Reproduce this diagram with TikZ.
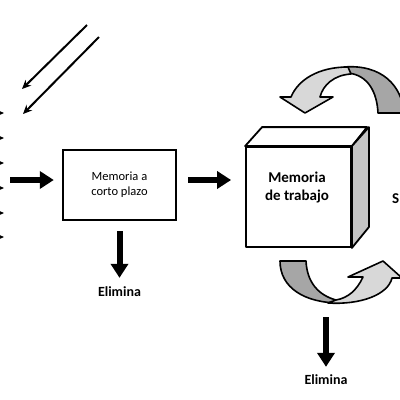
\documentclass[tikz,border=0pt]{standalone}
\usepackage{fontspec}
\setmainfont{Carlito}
\usetikzlibrary{arrows.meta, positioning}
\definecolor{cubegray}{RGB}{196,196,196}
\definecolor{loopdark}{RGB}{166,166,166}
\definecolor{looplight}{RGB}{216,216,216}

\begin{document}
\begin{tikzpicture}[x=1pt, y=-1pt,
  fat/.style={-{Triangle[length=14pt, width=17pt]}, line width=6pt},
  ray/.style={-{Stealth[length=9pt, width=8pt]}, line width=2pt},
  face/.style={draw, line width=1.8pt, line join=round},
  loop/.style={draw, line width=1.6pt, line join=round},
  lbl/.style={font=\bfseries\fontsize{14}{16}\selectfont, inner sep=0pt}]
  \useasboundingbox (0,0) rectangle (400,400);

  % Incoming stimuli
  \foreach \y in {113,138,163,188,213,237}
    \draw[ray] (-20,\y) -- (4,\y);
  \draw[ray] (87,25) -- (22,89);
  \draw[ray] (99,37) -- (23,114);

  % Short-term memory
  \node[draw, line width=2.4pt, minimum width=113pt, minimum height=70pt,
        align=center, font=\fontsize{12.5}{15}\selectfont] (stm) at (119.5,185)
    {Memoria a\\corto plazo};
  \node[lbl] (elim1) at (119.5,292) {Elimina};

  % Working memory (cube)
  \node[face, minimum width=105pt, minimum height=100pt, inner sep=0pt] (wm) at (298.5,197) {};
  \draw[face, fill=white] (wm.north west) -- ++(17,-19) -- ++(105,0) -- (wm.north east) -- cycle;
  \draw[face, fill=cubegray] (wm.north east) -- ++(17,-19) -- ++(0,100) -- (wm.south east) -- cycle;
  \node[align=center, font=\bfseries\fontsize{15}{18}\selectfont] (wmtext) at (297,188)
    {Memoria\\de trabajo};
  \node[lbl, font=\bfseries\fontsize{15}{18}\selectfont, anchor=base west] (sys) at (392,203) {S};
  \node[lbl] (elim2) at (326,380) {Elimina};

  % Rehearsal loop, top
  \draw[loop, fill=loopdark] (344,67) .. controls (382,64) and (402,86) .. (404,113)
    -- (378,113) .. controls (377,92) and (368,75) .. (348,73) -- cycle;
  \draw[loop, fill=looplight] (280,97) -- (291,97) .. controls (298,80) and (318,67) .. (348,67)
    -- (351,74) .. controls (334,75) and (323,85) .. (320,97) -- (333,97) -- (305,113) -- cycle;
  % Rehearsal loop, bottom
  \draw[loop, fill=loopdark] (280,261) -- (306,261) .. controls (307,282) and (318,295) .. (336,300)
    -- (340,303) .. controls (305,303) and (280,288) .. cycle;
  \draw[loop, fill=looplight] (328,303) .. controls (360,305) and (388,295) .. (392,278)
    -- (402,278) -- (383,261) -- (348,277) -- (363,277) .. controls (357,290) and (348,298) .. (336,300) -- cycle;

  % Arrows between stages
  \coordinate (src) at (10,180);
  \draw[fat, shorten >=8pt] (src) -- (src -| stm.west);
  \draw[fat, shorten <=11pt, shorten >=14pt] (src -| stm.east) -- (src -| wm.west);
  \draw[fat, shorten <=10pt, shorten >=9pt] (stm.south) -- (elim1.north);
  \coordinate (cycbot) at (326,317);
  \draw[fat, shorten >=8pt] (cycbot) -- (elim2.north);
\end{tikzpicture}
\end{document}
